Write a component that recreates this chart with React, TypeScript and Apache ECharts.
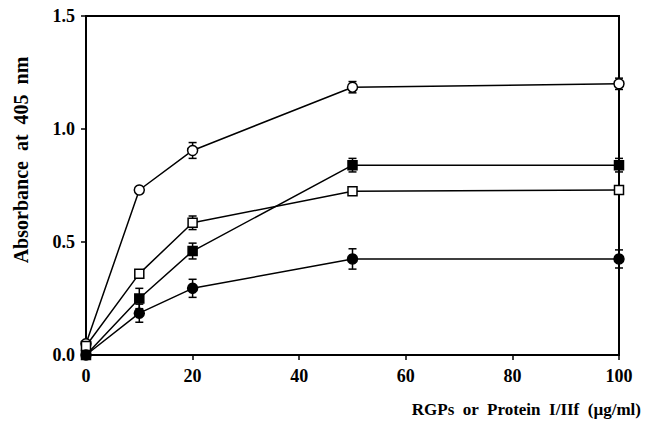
import React, { useEffect, useRef } from "react";
import * as echarts from "echarts";

const concentrations = [0, 10, 20, 50, 100];
const openCircle = [0.05, 0.73, 0.905, 1.185, 1.2];
const openCircleErr = [0.01, 0.015, 0.035, 0.025, 0.025];
const filledSquare = [0.0, 0.25, 0.46, 0.84, 0.84];
const filledSquareErr = [0.01, 0.045, 0.035, 0.03, 0.03];
const openSquare = [0.04, 0.36, 0.585, 0.725, 0.73];
const openSquareErr = [0.01, 0.01, 0.03, 0.01, 0.01];
const filledCircle = [0.0, 0.185, 0.295, 0.425, 0.425];
const filledCircleErr = [0.01, 0.04, 0.04, 0.045, 0.04];
const yTicks = [0, 0.5, 1.0, 1.5];
const xTicks = [0, 20, 40, 60, 80, 100];

const FONT = "Liberation Serif";

const seriesDefs = [
  { name: "open circle", values: openCircle, err: openCircleErr, symbol: "circle", fill: "#fff" },
  { name: "filled square", values: filledSquare, err: filledSquareErr, symbol: "rect", fill: "#000" },
  { name: "open square", values: openSquare, err: openSquareErr, symbol: "rect", fill: "#fff" },
  { name: "filled circle", values: filledCircle, err: filledCircleErr, symbol: "circle", fill: "#000" },
];

export default function App() {
  const ref = useRef<HTMLDivElement>(null);
  useEffect(() => {
    if (!ref.current) return;
    const chart = echarts.init(ref.current, undefined, { renderer: "svg" });
    const series: any[] = [];
    seriesDefs.forEach((s) => {
      series.push({
        type: "custom",
        name: s.name + " err",
        z: 1,
        data: concentrations.map((x, i) => [x, s.values[i], s.err[i]]),
        renderItem: (params: any, api: any) => {
          const x = api.value(0);
          const y = api.value(1);
          const e = api.value(2);
          const top = api.coord([x, y + e]);
          const bot = api.coord([x, y - e]);
          const w = 4;
          const style = { stroke: "#000", lineWidth: 1.5 };
          return {
            type: "group",
            children: [
              { type: "line", shape: { x1: top[0], y1: top[1], x2: bot[0], y2: bot[1] }, style },
              { type: "line", shape: { x1: top[0] - w, y1: top[1], x2: top[0] + w, y2: top[1] }, style },
              { type: "line", shape: { x1: bot[0] - w, y1: bot[1], x2: bot[0] + w, y2: bot[1] }, style },
            ],
          };
        },
      });
      series.push({
        type: "line",
        name: s.name,
        z: 3,
        data: concentrations.map((x, i) => [x, s.values[i]]),
        symbol: s.symbol,
        symbolSize: s.symbol === "rect" ? 9 : 10,
        showAllSymbol: true,
        lineStyle: { color: "#000", width: 1.5 },
        itemStyle: { color: s.fill, borderColor: "#000", borderWidth: 1.5 },
      });
    });

    chart.setOption({
      animation: false,
      backgroundColor: "#fff",
      textStyle: { fontFamily: FONT },
      grid: {
        left: 86,
        right: 28,
        top: 16,
        bottom: 66,
        show: true,
        borderColor: "#000",
        borderWidth: 2,
        containLabel: false,
      },
      xAxis: {
        type: "value",
        min: 0,
        max: 100,
        interval: 20,
        axisLine: { show: true, lineStyle: { color: "#000", width: 2 } },
        axisTick: { show: true, inside: false, length: 5, lineStyle: { color: "#000", width: 1.5 } },
        splitLine: { show: false },
        axisLabel: {
          color: "#000",
          fontFamily: FONT,
          fontWeight: "bold",
          fontSize: 18,
          margin: 12,
          formatter: (v: number) => (xTicks.includes(v) ? String(v) : ""),
        },
      },
      yAxis: {
        type: "value",
        min: 0,
        max: 1.5,
        interval: 0.5,
        axisLine: { show: true, lineStyle: { color: "#000", width: 2 } },
        axisTick: { show: true, inside: false, length: 5, lineStyle: { color: "#000", width: 1.5 } },
        splitLine: { show: false },
        axisLabel: {
          color: "#000",
          fontFamily: FONT,
          fontWeight: "bold",
          fontSize: 18,
          margin: 11,
          formatter: (v: number) => (yTicks.some((t) => Math.abs(t - v) < 1e-6) ? v.toFixed(1) : ""),
        },
      },
      graphic: [
        {
          type: "text",
          x: 21,
          y: 160,
          rotation: Math.PI / 2,
          style: {
            text: "Absorbance  at  405  nm",
            fontFamily: FONT,
            fontWeight: "bold",
            fontSize: 20,
            fill: "#000",
            align: "center",
            verticalAlign: "middle",
          },
        },
        {
          type: "text",
          x: 641,
          y: 409,
          style: {
            text: "RGPs  or  Protein  I/IIf  (µg/ml)",
            fontFamily: FONT,
            fontWeight: "bold",
            fontSize: 17,
            fill: "#000",
            align: "right",
            verticalAlign: "middle",
          },
        },
      ],
      series,
    });
    return () => chart.dispose();
  }, []);
  return <div ref={ref} style={{ width: 647, height: 421, position: "absolute", left: 0, top: 0 }} />;
}
